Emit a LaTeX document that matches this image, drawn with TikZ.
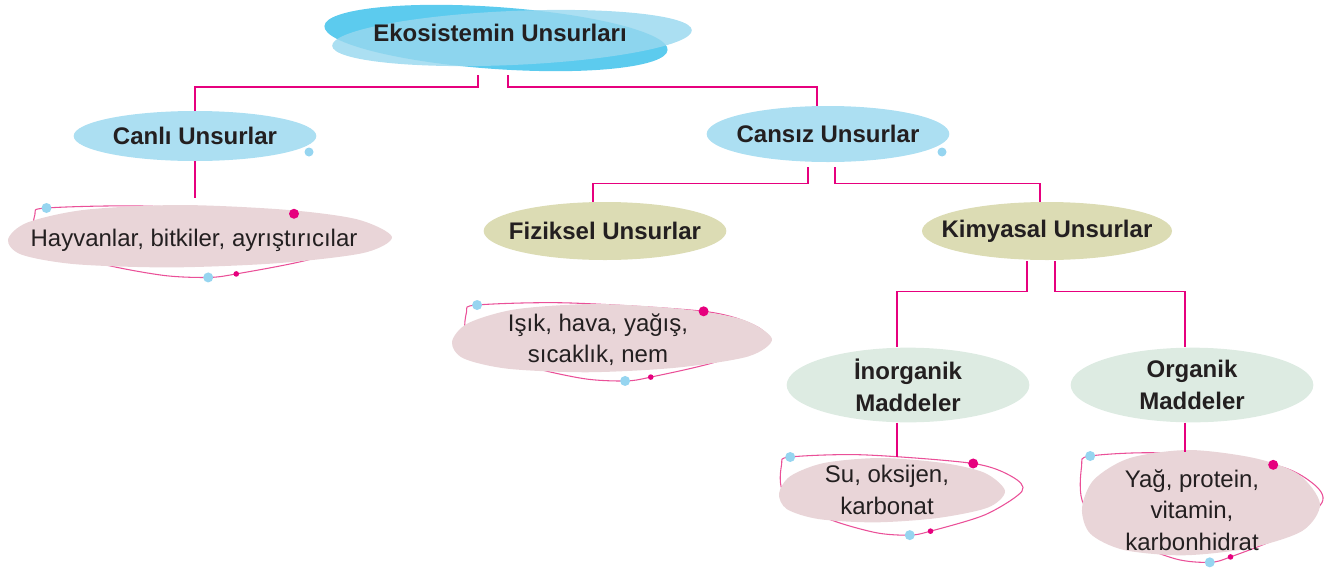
\documentclass[tikz,border=0pt]{standalone}
\usepackage{fontspec}
\setmainfont{Liberation Sans}
\usetikzlibrary{shapes.geometric,calc}
\definecolor{ink}{RGB}{35,31,32}
\definecolor{skyfill}{RGB}{172,223,242}
\definecolor{rootdark}{RGB}{92,203,238}
\definecolor{rootlight}{RGB}{153,216,239}
\definecolor{olivefill}{RGB}{220,220,180}
\definecolor{mintfill}{RGB}{221,235,226}
\definecolor{cloudfill}{RGB}{233,213,216}
\definecolor{linkpink}{RGB}{230,0,126}
\definecolor{orbitpink}{RGB}{234,80,152}
\definecolor{dotsky}{RGB}{150,213,240}
\begin{document}
\begin{tikzpicture}[x=0.75pt,y=0.75pt,yscale=-1,xscale=1,
  catnode/.style={ellipse,inner xsep=-15pt,inner ysep=-3pt,minimum width=182pt,align=center,text=ink,font=\fontsize{18}{24}\selectfont\bfseries},
  skynode/.style={catnode,fill=skyfill},
  olivenode/.style={catnode,fill=olivefill,minimum height=43.5pt},
  mintnode/.style={catnode,fill=mintfill,minimum height=56pt},
  notenode/.style={inner sep=0pt,align=center,text=ink,font=\fontsize{18}{23.5}\selectfont},
  conn/.style={draw=linkpink,line width=1.1pt},
  orbit/.style={draw=orbitpink,line width=0.8pt}]
\useasboundingbox (0,0) rectangle (1328,568);

%Shape: Ellipse (root, two layers)
\fill[rootdark,rotate around={4:(496,38)}] (496,38) ellipse (172 and 31);
\fill[rootlight,fill opacity=0.82,rotate around={-2.5:(512,38)}] (512,38) ellipse (180 and 27);

%Orbits behind the clouds
\foreach \ox/\oy/\oa/\ob in {195/240/165/32, 613/340/151/35, 900/493/122/36, 1200/505/122/49}{
  \begin{scope}[shift={(\ox,\oy)},xscale=\oa,yscale=\ob]
    \draw[orbit] plot[smooth cycle] coordinates {(-0.97,-0.8) (-0.9,-1) (-0.3,-1.06) (0.6,-0.82) (0.92,-0.45) (1,-0.05) (0.7,0.6) (0.25,1.06) (0.08,1.17) (-0.2,1.1) (-0.6,0.7) (-0.95,0)};
  \end{scope}
}
%Shape: Clouds
\foreach \cx/\cy/\a/\b in {200/237/192/32, 612/339/160/35, 892/491/113/33, 1201/504/119/54}{
  \begin{scope}[shift={(\cx,\cy)},xscale=\a,yscale=\b]
    \fill[cloudfill] plot[smooth cycle] coordinates {(-1,0.08) (-0.9,-0.45) (-0.6,-0.85) (-0.1,-1) (0.45,-0.85) (0.82,-0.55) (1,0) (0.85,0.5) (0.4,0.82) (-0.15,0.95) (-0.65,0.85) (-0.93,0.55)};
  \end{scope}
}
%Dots on the orbits
\foreach \ox/\oy/\oa/\ob in {195/240/165/32, 613/340/151/35, 900/493/122/36, 1200/505/122/49}{
  \fill[dotsky] ({\ox-0.9*\oa},{\oy-\ob}) circle (5);
  \fill[linkpink] ({\ox+0.6*\oa},{\oy-0.82*\ob}) circle (5);
  \fill[dotsky] ({\ox+0.08*\oa},{\oy+1.17*\ob}) circle (5);
  \fill[linkpink] ({\ox+0.25*\oa},{\oy+1.06*\ob}) circle (2.8);
}
\fill[dotsky] (309,152) circle (4.5);
\fill[dotsky] (942,152) circle (4.5);

% Text Node
\node[font=\fontsize{18}{24}\selectfont\bfseries,text=ink] (root) at (500,33) {Ekosistemin Unsurları};
\node[skynode,minimum height=37.5pt] (canli) at (195,136) {Canlı Unsurlar};
\node[skynode,minimum height=42pt] (cansiz) at (828,134) {Cansız Unsurlar};
\node[olivenode] (fiziksel) at (605,231) {Fiziksel Unsurlar};
\node[olivenode,minimum width=187.5pt] (kimyasal) at (1047,231) {Kimyasal Unsurlar};
\node[mintnode] (inorganik) at (908,385) {İnorganik\\Maddeler};
\node[mintnode] (organik) at (1192,385) {Organik\\Maddeler};
\node[notenode,minimum height=63pt] (hayvan) at (194,240) {Hayvanlar, bitkiler, ayrıştırıcılar};
\node[notenode] (isik) at (598,340) {Işık, hava, yağış,\\sıcaklık, nem};
\node[notenode,minimum height=49.5pt] (su) at (887,490) {Su, oksijen,\\karbonat};
\node[notenode,minimum height=87pt] (yag) at (1192,510) {Yağ, protein,\\vitamin,\\karbonhidrat};

%Straight Lines
\draw[conn] ($(root)+(-22,42)$) -- ++(0,12) -| (canli.north);
\draw[conn] ($(root)+(8,42)$) -- ++(0,12) -| ($(cansiz.north)+(-11,0)$);
\draw[conn] (canli.south) -- (canli.south |- hayvan.north);
\draw[conn] ($(cansiz.south)+(-20,5)$) -- ++(0,16) -| ($(fiziksel.north)+(-12,0)$);
\draw[conn] ($(cansiz.south)+(7,5)$) -- ++(0,16) -| ($(kimyasal.north)+(-7,0)$);
\draw[conn] ($(kimyasal.south)+(-20,1)$) -- ++(0,30) -| ($(inorganik.north)+(-11,0)$);
\draw[conn] ($(kimyasal.south)+(8,1)$) -- ++(0,30) -| ($(organik.north)+(-7,0)$);
\draw[conn] ($(inorganik.south)+(-11,0)$) coordinate (inoout) -- (inoout |- su.north);
\draw[conn] ($(organik.south)+(-7,0)$) coordinate (orgout) -- (orgout |- yag.north);

\end{tikzpicture}
\end{document}
